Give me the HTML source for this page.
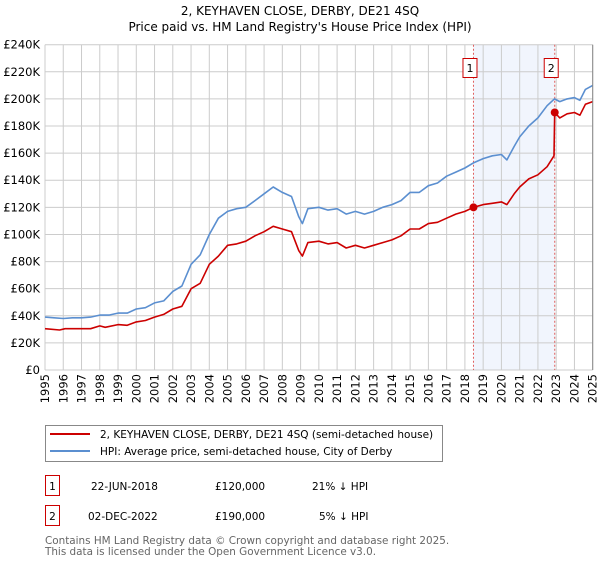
<!DOCTYPE html>
<html><head><meta charset="utf-8"><style>
body{margin:0;background:#fff;width:600px;height:560px;overflow:hidden}
svg text{font-family:"DejaVu Sans","Liberation Sans",sans-serif}
</style></head><body>
<svg id="c" width="600" height="560" viewBox="0 0 600 560" xmlns="http://www.w3.org/2000/svg">
<text x="300" y="15" text-anchor="middle" font-size="12">2, KEYHAVEN CLOSE, DERBY, DE21 4SQ</text>
<text x="300" y="31" text-anchor="middle" font-size="12">Price paid vs. HM Land Registry's House Price Index (HPI)</text>
<g id="grid"></g>
<g id="marks"></g>
<g id="axes"></g>
<rect x="45.5" y="425.5" width="397" height="36" fill="#fff" stroke="#888"/>
<line x1="50" y1="434" x2="90" y2="434" stroke="#cc0000" stroke-width="2"/>
<text x="100" y="438" font-size="10.5">2, KEYHAVEN CLOSE, DERBY, DE21 4SQ (semi-detached house)</text>
<line x1="50" y1="451" x2="90" y2="451" stroke="#5b8fd0" stroke-width="2"/>
<text x="100" y="455" font-size="10.5">HPI: Average price, semi-detached house, City of Derby</text>
<g font-size="10.5">
<rect x="45.5" y="475.5" width="14" height="20" fill="#fff" stroke="#cc0000"/><text x="52.5" y="490" text-anchor="middle">1</text>
<text x="91" y="490">22-JUN-2018</text><text x="215" y="490">£120,000</text><text x="312" y="490">21% ↓ HPI</text></g>
<g font-size="10.5">
<rect x="45.5" y="505.5" width="14" height="20" fill="#fff" stroke="#cc0000"/><text x="52.5" y="520" text-anchor="middle">2</text>
<text x="88" y="520">02-DEC-2022</text><text x="215" y="520">£190,000</text><text x="319" y="520">5% ↓ HPI</text></g>
<text x="45" y="544" font-size="10.4" fill="#666">Contains HM Land Registry data © Crown copyright and database right 2025.</text>
<text x="45" y="555" font-size="10.4" fill="#666">This data is licensed under the Open Government Licence v3.0.</text>
</svg>
<script>
const hpiT=[1995,1995.5,1996,1996.5,1997,1997.5,1998,1998.5,1999,1999.5,2000,2000.5,2001,2001.5,2002,2002.5,2003,2003.5,2004,2004.5,2005,2005.5,2006,2006.5,2007,2007.5,2008,2008.5,2008.9,2009.1,2009.4,2010,2010.5,2011,2011.5,2012,2012.5,2013,2013.5,2014,2014.5,2015,2015.5,2016,2016.5,2017,2017.5,2018,2018.5,2019,2019.5,2020,2020.3,2020.7,2021,2021.5,2022,2022.5,2022.9,2023.2,2023.6,2024,2024.3,2024.6,2025];
const hpiV=[39,38.5,38,38.5,38.5,39,40.5,40.5,42,42,45,46,49.5,51,58,62,78,85,100,112,117,119,120,125,130,135,131,128,113,108,119,120,118,119,115,117,115,117,120,122,125,131,131,136,138,143,146,149,153,156,158,159,155,165,172,180,186,195,200,198,200,201,199,207,210];
const ppT=[1995,1995.8,1996.1,1997,1997.5,1998,1998.3,1999,1999.5,2000,2000.5,2001,2001.5,2002,2002.5,2003,2003.5,2004,2004.5,2005,2005.5,2006,2006.5,2007,2007.5,2008,2008.5,2008.9,2009.1,2009.4,2010,2010.5,2011,2011.5,2012,2012.5,2013,2013.5,2014,2014.5,2015,2015.5,2016,2016.5,2017,2017.5,2018,2018.47,2019,2019.5,2020,2020.3,2020.7,2021,2021.5,2022,2022.5,2022.88,2022.92,2023.2,2023.6,2024,2024.3,2024.6,2025];
const ppV=[30.5,29.5,30.5,30.5,30.5,32.5,31.5,33.5,33,35.5,36.5,39,41,45,47,60,64,78,84,92,93,95,99,102,106,104,102,88,84,94,95,93,94,90,92,90,92,94,96,99,104,104,108,109,112,115,117,120,122,123,124,122,130,135,141,144,150,158,190,186,189,190,188,196,198];
const saleT=[2018.47,2022.92];
const saleV=[120,190];
const saleLabels=["1","2"];
const yTicks=[0,20,40,60,80,100,120,140,160,180,200,220,240];
const xYears=[1995,1996,1997,1998,1999,2000,2001,2002,2003,2004,2005,2006,2007,2008,2009,2010,2011,2012,2013,2014,2015,2016,2017,2018,2019,2020,2021,2022,2023,2024,2025];
const NS="http://www.w3.org/2000/svg";
const X0=45,X1=592.7,Y0=370,Y1=44.7;
const sx=t=>X0+(t-1995)/30*(X1-X0);
const sy=v=>Y0-v/240*(Y0-Y1);
function mk(tag,at,parent){const e=document.createElementNS(NS,tag);for(const k in at)e.setAttribute(k,at[k]);parent.appendChild(e);return e;}
const grid=document.getElementById('grid'),marks=document.getElementById('marks'),axes=document.getElementById('axes');
const sh=mk('rect',{x:sx(saleT[0]),y:Y1,width:sx(saleT[1])-sx(saleT[0]),height:Y0-Y1,fill:'#eef3fc',opacity:0.8},grid);


yTicks.forEach(v=>{
 const l=mk('line',{x1:X0,x2:X1,y1:sy(v),y2:sy(v),stroke:'#cccccc'},grid);
 
 
 const t=mk('text',{x:40,y:sy(v)+4,'text-anchor':'end','font-size':'11.5'},axes);
 t.textContent='£'+v+(v?'K':'');
 
 
});
xYears.forEach(y=>{
 const l=mk('line',{x1:sx(y),x2:sx(y),y1:Y1,y2:Y0,stroke:'#cccccc'},grid);
 
 
 const t=mk('text',{x:0,y:0,'text-anchor':'end','font-size':'11.5',transform:`translate(${sx(y)+4},374) rotate(-90)`},axes);
 t.textContent=y;
 
 
});
saleT.forEach((t,i)=>{
 const l=mk('line',{x1:sx(t),x2:sx(t),y1:Y1,y2:Y0,stroke:'#e06060','stroke-dasharray':'2,2'},marks);
 
 
});
function path(T,V,color,name){
 const d=T.map((t,i)=>(i?'L':'M')+sx(t).toFixed(1)+','+sy(V[i]).toFixed(1)).join('');
 const p=mk('path',{d:d,fill:'none',stroke:color,'stroke-width':1.6,'stroke-linejoin':'round'},marks);
 
 
}
path(hpiT,hpiV,'#5b8fd0','hpi-line');
path(ppT,ppV,'#cc0000','price-paid-line');
saleT.forEach((t,i)=>{
 const c=mk('circle',{cx:sx(t),cy:sy(saleV[i]),r:4,fill:'#cc0000'},marks);
 
 
 const g=mk('g',{},marks);
 
 
 mk('rect',{x:sx(t)-10.5,y:58.5,width:14,height:19,fill:'#fff',stroke:'#cc0000'},g);
 const tx=mk('text',{x:sx(t)-3.5,y:72,'text-anchor':'middle','font-size':'11'},g);
 tx.textContent=saleLabels[i];
});
const b=mk('line',{x1:X1,x2:X1,y1:Y1,y2:Y0,stroke:'#888'},axes);


</script>
</body></html>
